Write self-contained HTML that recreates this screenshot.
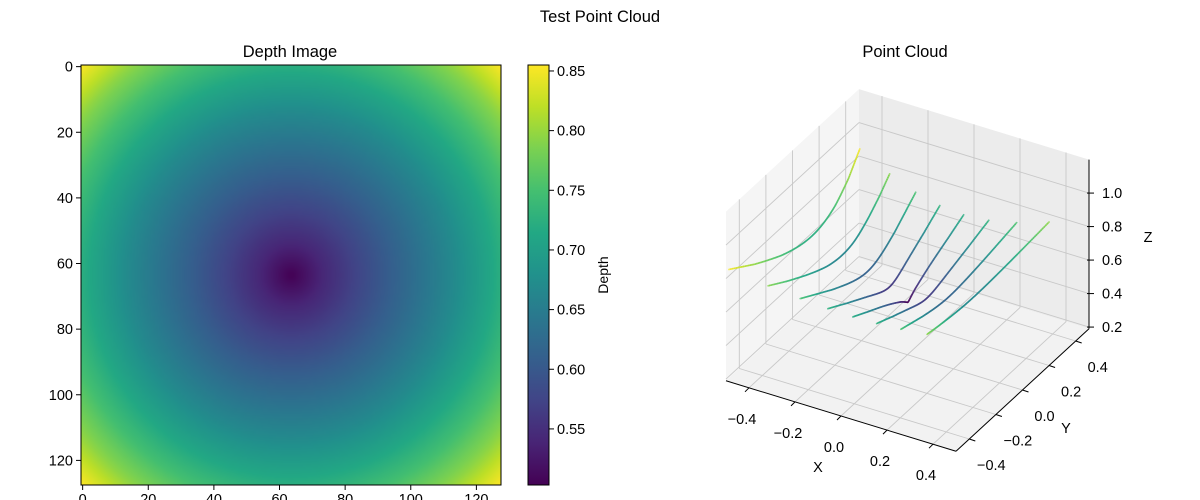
<!DOCTYPE html>
<html><head><meta charset="utf-8">
<style>
html,body{margin:0;padding:0;background:#fff;}
#wrap{position:relative;width:1200px;height:500px;overflow:hidden;font-family:"Liberation Sans","DejaVu Sans",sans-serif;}
#img{position:absolute;left:81px;top:65px;width:420px;height:420px;}
svg{position:absolute;left:0;top:0;}
text{font-family:"Liberation Sans","DejaVu Sans",sans-serif;fill:#000;}
</style></head>
<body>
<div id="wrap">
<canvas id="img" width="128" height="128"></canvas>
<svg id="svg" width="1200" height="500"></svg>
</div>
<script>
// ---- data ----
const radialDist = [0,10,20,30,40,50,60,70,80,90,100];
const radialDepth = [0.503,0.543,0.575,0.607,0.638,0.670,0.708,0.748,0.795,0.853,0.90];
const cloudCols = [0,16,32,48,64,80,96,112];
const focalPx = 110;
const imgTicks = [0,20,40,60,80,100,120];
const cbTicks = [0.55,0.60,0.65,0.70,0.75,0.80,0.85];
const xTicks3 = [-0.4,-0.2,0.0,0.2,0.4];
const yTicks3 = [-0.4,-0.2,0.0,0.2,0.4];
const zTicks3 = [0.2,0.4,0.6,0.8,1.0];
const vmin = 0.503, vmax = 0.855;

const VIR = ['#440154','#482475','#414487','#355f8d','#2a788e','#21918c','#22a884','#44bf70','#7ad151','#bddf26','#fde725'];
function hex(h){return [parseInt(h.slice(1,3),16),parseInt(h.slice(3,5),16),parseInt(h.slice(5,7),16)];}
const VIRC = VIR.map(hex);
function cmap(v){let t=(v-vmin)/(vmax-vmin);t=Math.max(0,Math.min(1,t))*10;const i=Math.min(9,Math.floor(t)),f=t-i;const a=VIRC[i],b=VIRC[i+1];return [0,1,2].map(k=>Math.round(a[k]+(b[k]-a[k])*f));}
function depthAt(u,v){const r=Math.hypot(u-63.5,v-63.5);for(let i=0;i<radialDist.length-1;i++){if(r<=radialDist[i+1]){const f=(r-radialDist[i])/(radialDist[i+1]-radialDist[i]);return radialDepth[i]+(radialDepth[i+1]-radialDepth[i])*f;}}return radialDepth[radialDepth.length-1];}

// ---- heatmap ----
const cv=document.getElementById('img');const ctx=cv.getContext('2d');
for(let v=0;v<128;v++)for(let u=0;u<128;u++){const c=cmap(depthAt(u,v));ctx.fillStyle='rgb('+c+')';ctx.fillRect(u,v,1,1);}

const svg=document.getElementById('svg');const NS='http://www.w3.org/2000/svg';
function el(tag,attrs,parent){const e=document.createElementNS(NS,tag);for(const k in attrs)e.setAttribute(k,attrs[k]);(parent||svg).appendChild(e);return e;}
function txt(s,x,y,attrs,name){const t=el('text',Object.assign({x:x,y:y,'font-size':14.5},attrs||{}));t.textContent=s;


return t;}

txt('Test Point Cloud',600,22,{'text-anchor':'middle','font-size':16.5},'figure-title');
txt('Depth Image',290,57,{'text-anchor':'middle','font-size':16.5},'depth-image-title');
txt('Point Cloud',905,57,{'text-anchor':'middle','font-size':16.5},'point-cloud-title');

// image axes
const IX0=81,IY0=65,IS=420;
function ipx(t){return (t+0.5)*IS/128;}
const frame=el('rect',{x:IX0,y:IY0,width:IS,height:IS,fill:'none',stroke:'#000','stroke-width':1});


imgTicks.forEach(t=>{
 const x=IX0+ipx(t);
 const tk=el('line',{x1:x,y1:IY0+IS,x2:x,y2:IY0+IS+5,stroke:'#000'});
 
 
 txt(String(t),x,IY0+IS+19,{'text-anchor':'middle'},'x-tick-label');
 const y=IY0+ipx(t);
 const tk2=el('line',{x1:IX0-5,y1:y,x2:IX0,y2:y,stroke:'#000'});
 
 
 txt(String(t),IX0-8,y+5,{'text-anchor':'end'},'y-tick-label');
});

// colorbar
const CX=528,CW=21,CY0=65,CH=420;
const defs=el('defs',{});
const lg=el('linearGradient',{id:'vg',x1:0,y1:1,x2:0,y2:0},defs);
VIR.forEach((c,i)=>el('stop',{offset:(i/10),'stop-color':c},lg));
const cb=el('rect',{x:CX,y:CY0,width:CW,height:CH,fill:'url(#vg)',stroke:'#000','stroke-width':1});


function cby(v){return CY0+CH-(v-vmin)/(vmax-vmin)*CH;}
cbTicks.forEach(v=>{const y=cby(v);
 const tk=el('line',{x1:CX+CW,y1:y,x2:CX+CW+5,y2:y,stroke:'#000'});
 
 
 txt(v.toFixed(2),CX+CW+8,y+5,{},'colorbar-tick-label');});
txt('Depth',608,275,{'text-anchor':'middle',transform:'rotate(-90 608 275)','font-size':14},'colorbar-label');

// ---- 3D ----
const ZF=0.19,ZT=1.2;
function P(x,y,z){return [907.5+230*x+133*y, 354.75+70.5*x-122.5*y-167.5*(z-ZF)];}
function poly(pts,fill,name){const p=el('polygon',{points:pts.map(q=>P(...q).join(',')).join(' '),fill:fill,stroke:'none'});

}
poly([[-.5,-.5,ZF],[-.5,.5,ZF],[-.5,.5,ZT],[-.5,-.5,ZT]],'#f5f5f5','left-pane');
poly([[-.5,.5,ZF],[.5,.5,ZF],[.5,.5,ZT],[-.5,.5,ZT]],'#ececec','back-pane');
poly([[-.5,-.5,ZF],[.5,-.5,ZF],[.5,.5,ZF],[-.5,.5,ZF]],'#f2f2f2','floor-pane');
function L(a,b,st,w,name){const pa=P(...a),pb=P(...b);const l=el('line',{x1:pa[0],y1:pa[1],x2:pb[0],y2:pb[1],stroke:st,'stroke-width':w});

return l;}
const G='#c8c8c8';
xTicks3.forEach(t=>{L([t,-.5,ZF],[t,.5,ZF],G,0.9,'grid-x-floor');L([t,.5,ZF],[t,.5,ZT],G,0.9,'grid-x-back');});
yTicks3.forEach(t=>{L([-.5,t,ZF],[.5,t,ZF],G,0.9,'grid-y-floor');L([-.5,t,ZF],[-.5,t,ZT],G,0.9,'grid-y-left');});
zTicks3.forEach(t=>{L([-.5,.5,t],[.5,.5,t],G,0.9,'grid-z-back');L([-.5,-.5,t],[-.5,.5,t],G,0.9,'grid-z-left');});

// curves (back-projected columns of the depth image)
cloudCols.forEach(u=>{
 const g=el('g',{});
 
 
 let prev=null;
 for(let v=0;v<128;v++){
  const z=depthAt(u,v);const p=P((u-63.5)*z/focalPx,(v-63.5)*z/focalPx,z);
  if(prev){const c=cmap((z+prev[2])/2);el('line',{x1:prev[0],y1:prev[1],x2:p[0],y2:p[1],stroke:'rgb('+c+')','stroke-width':1.7,'stroke-opacity':0.75,'stroke-linecap':'round'},g);}
  prev=[p[0],p[1],z];
 }
});

// axes lines
L([-.5,-.5,ZF],[.5,-.5,ZF],'#000',1,'x-axis-line');
L([.5,-.5,ZF],[.5,.5,ZF],'#000',1,'y-axis-line');
L([.5,.5,ZF],[.5,.5,ZT],'#000',1,'z-axis-line');
xTicks3.forEach(t=>{const p=P(t,-.5,ZF);
 const tk=el('line',{x1:p[0],y1:p[1],x2:p[0]-4,y2:p[1]+4,stroke:'#000'});
 
 
 txt(t.toFixed(1).replace('-','\u2212'),p[0]-7,p[1]+36,{'text-anchor':'middle'},'x3-tick-label');});
yTicks3.forEach(t=>{const p=P(.5,t,ZF);
 const tk=el('line',{x1:p[0],y1:p[1],x2:p[0]+6,y2:p[1]+2,stroke:'#000'});
 
 
 txt(t.toFixed(1).replace('-','\u2212'),p[0]+22,p[1]+31,{'text-anchor':'middle'},'y3-tick-label');});
zTicks3.forEach(t=>{const p=P(.5,.5,t);
 const tk=el('line',{x1:p[0]-2,y1:p[1],x2:p[0]+5,y2:p[1],stroke:'#000'});
 
 
 txt(t.toFixed(1),p[0]+13,p[1]+5,{},'z3-tick-label');});
txt('X',818,472,{'text-anchor':'middle'},'x-axis-title');
txt('Y',1066,433,{'text-anchor':'middle'},'y-axis-title');
txt('Z',1148,242,{'text-anchor':'middle'},'z-axis-title');
</script>
</body></html>
